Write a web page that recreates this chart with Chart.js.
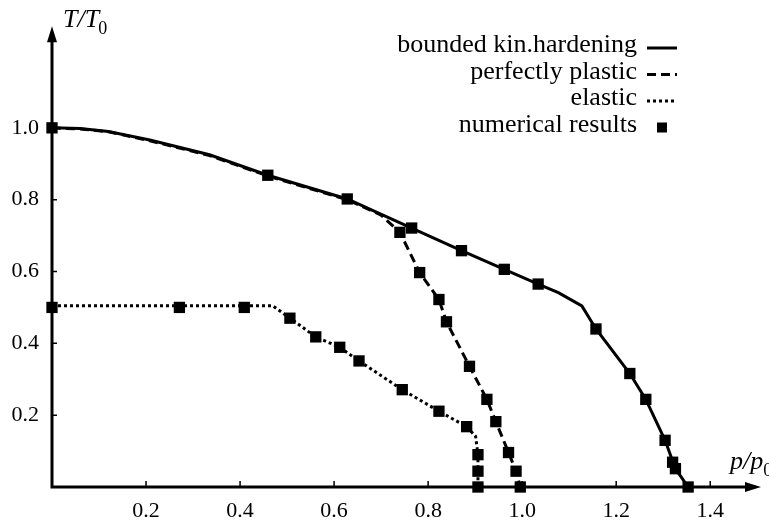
<!DOCTYPE html>
<html><head><meta charset="utf-8">
<script src="https://cdn.jsdelivr.net/npm/chart.js@4.4.1/dist/chart.umd.min.js"></script>
<style>html,body{margin:0;padding:0;background:#fff;}</style>
</head><body>
<canvas id="c" width="769" height="524"></canvas>
<script>
const seriesNames = ['bounded kin.hardening', 'perfectly plastic', 'elastic', 'numerical results'];
const xTicks = [0.2, 0.4, 0.6, 0.8, 1.0, 1.2, 1.4];
const yTicks = [0.2, 0.4, 0.6, 0.8, 1.0];

const hardeningP = [0, 0.06, 0.12, 0.208, 0.335, 0.459, 0.628, 0.765, 0.871, 0.962, 1.034, 1.077, 1.127, 1.157, 1.229, 1.263, 1.304, 1.326, 1.353];
const hardeningT = [1.0, 0.998, 0.99, 0.966, 0.925, 0.868, 0.802, 0.721, 0.658, 0.606, 0.565, 0.541, 0.504, 0.44, 0.316, 0.244, 0.13, 0.051, 0.0];

const plasticP = [0, 0.06, 0.12, 0.208, 0.335, 0.459, 0.628, 0.700, 0.740, 0.782, 0.823, 0.839, 0.888, 0.925, 0.944, 0.971, 0.987, 0.996];
const plasticT = [1.0, 0.997, 0.989, 0.964, 0.923, 0.866, 0.800, 0.757, 0.709, 0.597, 0.522, 0.46, 0.336, 0.244, 0.182, 0.096, 0.044, 0.0];

const elasticP = [0, 0.469, 0.506, 0.561, 0.612, 0.653, 0.745, 0.823, 0.882, 0.901, 0.906, 0.906];
const elasticT = [0.505, 0.505, 0.47, 0.418, 0.389, 0.351, 0.271, 0.211, 0.168, 0.141, 0.09, 0.0];

const numericalP = [0, 0.459, 0.628, 0.765, 0.871, 0.962, 1.034, 1.157, 1.229, 1.263, 1.304, 1.32, 1.326, 1.353,
  0.740, 0.782, 0.823, 0.839, 0.888, 0.925, 0.944, 0.971, 0.987, 0.996,
  0, 0.271, 0.409, 0.506, 0.561, 0.612, 0.653, 0.745, 0.823, 0.882, 0.906, 0.906, 0.906];
const numericalT = [1.0, 0.868, 0.802, 0.721, 0.658, 0.606, 0.565, 0.44, 0.316, 0.244, 0.13, 0.069, 0.051, 0.0,
  0.709, 0.597, 0.522, 0.46, 0.336, 0.244, 0.182, 0.096, 0.044, 0.0,
  0.5, 0.5, 0.5, 0.47, 0.418, 0.389, 0.351, 0.271, 0.211, 0.168, 0.09, 0.044, 0.0];

const pts = (xs, ys) => xs.map((x, i) => ({x: x, y: ys[i]}));
const SERIF = "'Liberation Serif', 'Times New Roman', serif";

const axesPlugin = {
  id: 'axesArrows',
  beforeDatasetsDraw(chart) {
    const ctx = chart.ctx, a = chart.chartArea;
    const xs = chart.scales.x, ys = chart.scales.y;
    const L = a.left, B = a.bottom;
    ctx.save();
    ctx.strokeStyle = '#000'; ctx.fillStyle = '#000';
    ctx.lineWidth = 3;
    ctx.beginPath();
    ctx.moveTo(L, B + 1.5); ctx.lineTo(L, a.top + 10);
    ctx.moveTo(L - 1.5, B); ctx.lineTo(a.right - 10, B);
    ctx.stroke();
    ctx.beginPath();
    ctx.moveTo(L, a.top); ctx.lineTo(L - 5, a.top + 16); ctx.lineTo(L + 5, a.top + 16); ctx.closePath();
    ctx.fill();
    ctx.beginPath();
    ctx.moveTo(a.right, B); ctx.lineTo(a.right - 16, B - 5); ctx.lineTo(a.right - 16, B + 5); ctx.closePath();
    ctx.fill();
    ctx.lineWidth = 1.5;
    ctx.beginPath();
    xs.ticks.forEach(t => { const px = xs.getPixelForValue(t.value); ctx.moveTo(px, B); ctx.lineTo(px, B - 6); });
    ys.ticks.forEach(t => { const py = ys.getPixelForValue(t.value); ctx.moveTo(L, py); ctx.lineTo(L + 5, py); });
    ctx.stroke();
    ctx.restore();
  },
  afterDraw(chart) {
    const ctx = chart.ctx;
    ctx.save();
    ctx.fillStyle = '#000';
    ctx.textBaseline = 'alphabetic';
    ctx.textAlign = 'left';
    ctx.font = 'italic 26px ' + SERIF;
    ctx.fillText('T/T', 63, 27);
    let w = ctx.measureText('T/T').width;
    ctx.font = '18px ' + SERIF;
    ctx.fillText('0', 63 + w - 1, 34);
    ctx.font = 'italic 26px ' + SERIF;
    ctx.fillText('p/p', 730, 469);
    w = ctx.measureText('p/p').width;
    ctx.font = '18px ' + SERIF;
    ctx.fillText('0', 730 + w, 476);
    const ds = chart.data.datasets;
    const textRight = 637, baseY = 52, step = 26.5;
    [0, 1, 2, 3].forEach((di, k) => {
      const d = ds[di];
      const by = baseY + k * step;
      ctx.font = '26px ' + SERIF;
      ctx.textAlign = 'right';
      ctx.fillText(d.label, textRight, by);
      const sy = by - 4;
      if (d.showLine === false) {
        ctx.fillRect(662 - 5, sy - 5, 10, 10);
      } else {
        ctx.save();
        ctx.strokeStyle = '#000';
        ctx.lineWidth = d.borderWidth;
        ctx.setLineDash(d.borderDash || []);
        ctx.beginPath(); ctx.moveTo(647, sy); ctx.lineTo(677, sy); ctx.stroke();
        ctx.restore();
      }
    });
    ctx.restore();
  }
};

new Chart(document.getElementById('c'), {
  type: 'scatter',
  data: {
    datasets: [
      { label: seriesNames[0], data: pts(hardeningP, hardeningT), showLine: true, borderColor: '#000', borderWidth: 3, pointRadius: 0, tension: 0, clip: false, order: 1 },
      { label: seriesNames[1], data: pts(plasticP, plasticT), showLine: true, borderColor: '#000', borderWidth: 3, borderDash: [9, 5], pointRadius: 0, tension: 0, clip: false, order: 2 },
      { label: seriesNames[2], data: pts(elasticP, elasticT), showLine: true, borderColor: '#000', borderWidth: 3, borderDash: [3, 3], pointRadius: 0, tension: 0, clip: false, order: 3 },
      { label: seriesNames[3], data: pts(numericalP, numericalT), showLine: false, pointStyle: 'rect', pointRadius: 8, backgroundColor: '#000', borderColor: '#000', borderWidth: 0, clip: false, order: 0 }
    ]
  },
  options: {
    responsive: false,
    animation: false,
    events: [],
    layout: { padding: { top: 15, right: 6, left: 0, bottom: 0 } },
    plugins: { legend: { display: false }, tooltip: { enabled: false } },
    scales: {
      x: {
        type: 'linear', min: 0, max: 1.508,
        afterBuildTicks: (axis) => { axis.ticks = xTicks.map(v => ({ value: v })); },
        afterFit: (scale) => { scale.height = 37; },
        grid: { display: false, drawTicks: false },
        border: { display: false },
        ticks: { color: '#000', font: { family: SERIF, size: 22 }, padding: 11, maxRotation: 0, callback: (v) => Number(v).toFixed(1) }
      },
      y: {
        type: 'linear', min: 0, max: 1.283,
        afterBuildTicks: (axis) => { axis.ticks = yTicks.map(v => ({ value: v })); },
        afterFit: (scale) => { scale.width = 52; },
        grid: { display: false, drawTicks: false },
        border: { display: false },
        ticks: { color: '#000', font: { family: SERIF, size: 22 }, padding: 13, callback: (v) => Number(v).toFixed(1) }
      }
    }
  },
  plugins: [axesPlugin]
});
</script>
</body></html>
